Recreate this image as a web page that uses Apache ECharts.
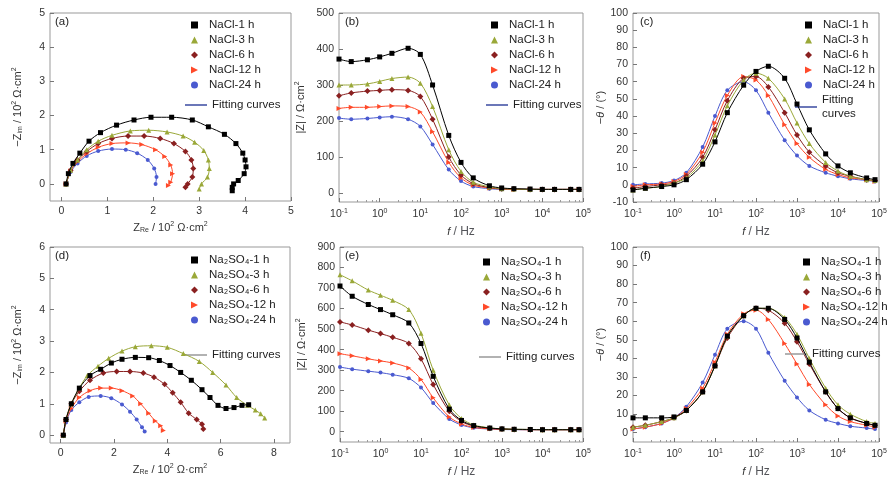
<!DOCTYPE html>
<html>
<head>
  <meta charset="UTF-8">
  <script src="https://cdn.jsdelivr.net/npm/echarts@6/dist/echarts.min.js"></script>
  <style>
    html, body { margin: 0; background: #fff; }
    #chart { width: 896px; height: 480px; }
  </style>
</head>
<body>
<div id="chart"></div>
<script>
  // Nyquist data [Z_re, -Z_im] in 10^2 ohm cm2
  var naclNyq1 = [[0.1,0],[0.15,0.3],[0.25,0.6],[0.4,0.9],[0.6,1.25],[0.85,1.5],[1.2,1.72],[1.58,1.87],[1.95,1.95],[2.4,1.95],[2.85,1.87],[3.2,1.67],[3.55,1.45],[3.8,1.18],[3.95,0.9],[4.0,0.7],[4.02,0.5],[3.98,0.3],[3.85,0.1],[3.75,0],[3.72,-0.1],[3.72,-0.2]];
  var naclNyq3 = [[0.1,0],[0.2,0.4],[0.35,0.7],[0.55,1.0],[0.8,1.25],[1.1,1.42],[1.5,1.55],[1.9,1.57],[2.3,1.52],[2.65,1.4],[2.9,1.22],[3.1,0.98],[3.2,0.7],[3.22,0.45],[3.18,0.2],[3.05,0],[3.0,-0.15]];
  var naclNyq6 = [[0.1,0],[0.2,0.4],[0.35,0.7],[0.55,0.95],[0.8,1.18],[1.1,1.33],[1.45,1.4],[1.8,1.4],[2.15,1.33],[2.45,1.18],[2.7,0.95],[2.83,0.7],[2.87,0.45],[2.85,0.2],[2.75,0],[2.7,-0.1]];
  var naclNyq12 = [[0.1,0],[0.2,0.38],[0.35,0.65],[0.55,0.88],[0.8,1.07],[1.1,1.18],[1.45,1.2],[1.75,1.15],[2.05,1.0],[2.25,0.8],[2.38,0.55],[2.42,0.3],[2.38,0.05],[2.33,-0.05]];
  var naclNyq24 = [[0.1,0],[0.2,0.35],[0.35,0.6],[0.55,0.82],[0.8,0.96],[1.1,1.02],[1.4,1.0],[1.65,0.9],[1.88,0.7],[2.02,0.45],[2.07,0.2],[2.05,0]];

  var soNyq1 = [[0.1,0],[0.2,0.5],[0.4,1.0],[0.7,1.5],[1.1,1.9],[1.5,2.1],[1.9,2.3],[2.3,2.42],[2.8,2.48],[3.3,2.47],[3.7,2.38],[4.1,2.22],[4.5,2.0],[4.9,1.75],[5.3,1.45],[5.6,1.2],[5.9,0.95],[6.2,0.85],[6.5,0.88],[6.8,0.95],[7.05,0.97]];
  var soNyq3 = [[0.1,0],[0.2,0.5],[0.4,1.0],[0.7,1.5],[1.0,1.9],[1.4,2.2],[1.8,2.45],[2.3,2.68],[2.8,2.82],[3.4,2.85],[4.0,2.8],[4.6,2.6],[5.2,2.35],[5.7,2.0],[6.2,1.6],[6.6,1.2],[7.0,0.95],[7.3,0.8],[7.5,0.68],[7.65,0.55]];
  var soNyq6 = [[0.1,0],[0.2,0.5],[0.4,1.0],[0.7,1.4],[1.1,1.75],[1.6,1.98],[2.1,2.03],[2.6,2.03],[3.1,1.98],[3.5,1.85],[3.9,1.62],[4.2,1.35],[4.5,1.05],[4.8,0.7],[5.1,0.5],[5.3,0.35],[5.35,0.2]];
  var soNyq12 = [[0.1,0],[0.2,0.45],[0.4,0.85],[0.7,1.2],[1.1,1.42],[1.5,1.5],[1.9,1.5],[2.3,1.42],[2.7,1.25],[3.0,1.0],[3.3,0.7],[3.55,0.45],[3.75,0.3],[3.85,0.15]];
  var soNyq24 = [[0.1,0],[0.2,0.4],[0.4,0.8],[0.7,1.05],[1.05,1.22],[1.5,1.25],[1.9,1.18],[2.3,0.98],[2.6,0.75],[2.85,0.5],[3.05,0.25],[3.15,0.12]];

  // Bode data
  var freq = [0.1,0.2,0.5,1,2,5,10,20,50,100,200,500,1e3,2e3,5e3,1e4,2e4,5e4,8e4];
  var naclZ1 = [372,365,370,378,388,402,385,300,160,85,42,20,14,12,11,10,10,10,10];
  var naclZ3 = [300,300,303,310,318,322,305,240,120,60,30,17,12,11,10,10,10,10,10];
  var naclZ6 = [270,278,283,285,287,285,268,205,100,50,26,15,12,11,10,10,10,10,10];
  var naclZ12 = [235,238,238,240,242,240,225,170,85,42,22,14,11,10,10,10,10,10,10];
  var naclZ24 = [208,205,207,210,212,205,185,135,65,33,18,12,10,10,10,10,10,10,10];

  var naclP1 = [-3,-2,-1,0,3,12,25,42,58,66,69,62,47,32,18,11,7,4,3];
  var naclP3 = [-3,-2,-1,1,4,14,29,46,61,65,62,50,36,24,13,8,5,3,2.5];
  var naclP6 = [-2,-1,0,1,5,16,32,49,62,63,57,42,29,19,11,7,5,3,2.5];
  var naclP12 = [-1,0,0.5,2,6,19,36,52,63,61,52,35,24,16,9,6,4,3,2];
  var naclP24 = [0,0.5,1,2.5,7,22,40,55,60,55,42,26,17,11,7,5,3.5,2.5,2];

  var soZ1 = [710,660,620,595,570,530,430,270,110,55,30,18,14,12,11,10,10,10,10];
  var soZ3 = [765,735,690,665,640,595,480,300,130,65,33,19,14,12,11,10,10,10,10];
  var soZ6 = [535,520,495,478,460,430,355,230,100,50,27,17,13,11,10,10,10,10,10];
  var soZ12 = [380,370,355,345,335,310,255,165,72,38,21,14,12,11,10,10,10,10,10];
  var soZ24 = [315,305,295,288,278,260,215,140,62,33,19,13,11,10,10,10,10,10,10];

  var soP1 = [8,8,8,8.5,12,22,36,52,63,67,67,61,51,38,22,13,8,5,4];
  var soP3 = [3,4,6,8,12,22,36,52,63,67,67,62,53,40,24,15,10,6,5];
  var soP6 = [3,4,6,8,12,22,36,51,63,67,66,59,49,37,22,13,8,5,4];
  var soP12 = [2,3,5,8,13,24,38,53,64,66,61,48,37,26,15,9,6,4,3];
  var soP24 = [2,3,5,8,14,27,42,56,60,56,43,28,19,12,7,5,3.5,2.5,2];

  var naclNames = ['NaCl-1 h','NaCl-3 h','NaCl-6 h','NaCl-12 h','NaCl-24 h'];
  var soNames = ['Na₂SO₄-1 h','Na₂SO₄-3 h','Na₂SO₄-6 h','Na₂SO₄-12 h','Na₂SO₄-24 h'];
  var fitName1 = 'Fitting curves';
  var fitName2 = 'Fitting curves ';

  var colors = ['#000000','#9aa838','#8a2020','#ff4a2a','#4a5ad0'];
  var rightTri = 'path://M0,0L10,5L0,10Z';
  var symbols = ['rect','triangle','diamond',rightTri,'circle'];
  var symSizes = [5,5,6,5,4];

  function pairs(vals) { return freq.map(function (f, i) { return [f, vals[i]]; }); }

  var grids = [
    {left: 50, top: 13, width: 241, height: 188},
    {left: 339, top: 13, width: 244, height: 189},
    {left: 633, top: 13, width: 246, height: 189},
    {left: 50, top: 247, width: 240, height: 196},
    {left: 340, top: 247, width: 243, height: 195},
    {left: 633, top: 247, width: 246, height: 195}
  ];
  grids.forEach(function (g) { g.show = true; g.borderColor = '#999'; g.borderWidth = 1; });

  var labelStyle = {color: '#333', fontSize: 10.5, fontFamily: 'Liberation Sans'};
  var nameRich = {
    n: {fontSize: 11, color: '#333', fontFamily: 'Liberation Sans'},
    it: {fontSize: 11, color: '#333', fontStyle: 'italic', fontFamily: 'Liberation Sans'},
    sub: {fontSize: 7, color: '#333', verticalAlign: 'bottom', padding: [6, 0, 0, 0], fontFamily: 'Liberation Sans'},
    sup: {fontSize: 7, color: '#333', padding: [0, 0, 6, 0], fontFamily: 'Liberation Sans'}
  };
  var logRich = {
    b: {fontSize: 10.5, color: '#333', fontFamily: 'Liberation Sans'},
    e: {fontSize: 7, color: '#333', padding: [0, 0, 6, 0], fontFamily: 'Liberation Sans'}
  };

  function valAxis(grid, min, max, interval, shown, name, nameGap, isY) {
    return {
      type: 'value', gridIndex: grid, min: min, max: max, interval: interval,
      name: name, nameLocation: 'middle', nameGap: nameGap, nameRotate: isY ? 90 : 0,
      nameTextStyle: {rich: nameRich},
      axisLine: {show: false, onZero: false},
      axisTick: {inside: true, length: 4, lineStyle: {color: '#777'}, customValues: shown},
      axisLabel: Object.assign({customValues: shown, margin: 5}, labelStyle),
      splitLine: {show: false}
    };
  }
  function logAxis(grid) {
    return {
      type: 'log', logBase: 10, gridIndex: grid, min: 0.1, max: 1e5,
      name: '{it|f} / Hz', nameLocation: 'middle', nameGap: 24,
      nameTextStyle: {rich: nameRich},
      axisLine: {show: false, onZero: false},
      axisTick: {inside: true, length: 4, lineStyle: {color: '#777'}},
      minorTick: {show: true, splitNumber: 5, length: 2, lineStyle: {color: '#999'}},
      axisLabel: {margin: 6, rich: logRich, formatter: function (v) {
        return '{b|10}{e|' + Math.round(Math.log10(v)) + '}';
      }},
      splitLine: {show: false}
    };
  }

  var xAxes = [
    valAxis(0, -0.25, 5, 0.25, [0,1,2,3,4,5], '{n|Z}{sub|Re}{n| / 10}{sup|2}{n| Ω·cm}{sup|2}', 20, false),
    logAxis(1),
    logAxis(2),
    valAxis(3, -0.4, 8.6, 0.2, [0,2,4,6,8], '{n|Z}{sub|Re}{n| / 10}{sup|2}{n| Ω·cm}{sup|2}', 20, false),
    logAxis(4),
    logAxis(5)
  ];
  var yAxes = [
    valAxis(0, -0.5, 5, 0.5, [0,1,2,3,4,5], '{n|−Z}{sub|im}{n| / 10}{sup|2}{n| Ω·cm}{sup|2}', 26, true),
    valAxis(1, -25, 500, 25, [0,100,200,300,400,500], '{n||Z| / Ω·cm}{sup|2}', 32, true),
    valAxis(2, -10, 100, 10, [-10,0,10,20,30,40,50,60,70,80,90,100], '{n|−}{it|θ}{n| / (°)}', 26, true),
    valAxis(3, -0.25, 6, 0.25, [0,1,2,3,4,5,6], '{n|−Z}{sub|im}{n| / 10}{sup|2}{n| Ω·cm}{sup|2}', 26, true),
    valAxis(4, -50, 900, 50, [0,100,200,300,400,500,600,700,800,900], '{n||Z| / Ω·cm}{sup|2}', 32, true),
    valAxis(5, -5, 100, 5, [0,10,20,30,40,50,60,70,80,90,100], '{n|−}{it|θ}{n| / (°)}', 26, true)
  ];

  var panels = [
    {names: naclNames, data: [naclNyq1, naclNyq3, naclNyq6, naclNyq12, naclNyq24]},
    {names: naclNames, data: [naclZ1, naclZ3, naclZ6, naclZ12, naclZ24].map(pairs)},
    {names: naclNames, data: [naclP1, naclP3, naclP6, naclP12, naclP24].map(pairs)},
    {names: soNames, data: [soNyq1, soNyq3, soNyq6, soNyq12, soNyq24]},
    {names: soNames, data: [soZ1, soZ3, soZ6, soZ12, soZ24].map(pairs)},
    {names: soNames, data: [soP1, soP3, soP6, soP12, soP24].map(pairs)}
  ];

  var series = [];
  panels.forEach(function (p, gi) {
    p.data.forEach(function (d, k) {
      series.push({
        type: 'line', name: p.names[k], xAxisIndex: gi, yAxisIndex: gi,
        data: d, smooth: 0.3, showAllSymbol: true,
        symbol: symbols[k], symbolSize: symSizes[k],
        itemStyle: {color: colors[k]},
        lineStyle: {width: 1, color: colors[k]},
        emphasis: {disabled: true}, z: 5 - k
      });
    });
  });
  series.push({type: 'line', name: fitName1, xAxisIndex: 0, yAxisIndex: 0, data: [], itemStyle: {color: '#3a4aa0'}});
  series.push({type: 'line', name: fitName2, xAxisIndex: 3, yAxisIndex: 3, data: [], itemStyle: {color: '#999999'}});

  function markerLegend(names, left, top) {
    return {
      orient: 'vertical', left: left, top: top, itemGap: 3, itemWidth: 7, itemHeight: 7,
      selectedMode: false,
      textStyle: {fontSize: 11.5, color: '#222', fontFamily: 'Liberation Sans', padding: [0, 0, 0, 6]},
      data: names.map(function (n, k) { return {name: n, icon: symbols[k]}; })
    };
  }
  function fitLegend(name, left, top, fmt) {
    var l = {
      left: left, top: top, itemWidth: 22, itemHeight: 1.5, icon: 'rect', selectedMode: false,
      textStyle: {fontSize: 11.5, color: '#222', fontFamily: 'Liberation Sans', lineHeight: 14},
      data: [name]
    };
    if (fmt) l.formatter = function () { return fmt; };
    return l;
  }

  var legends = [
    markerLegend(naclNames, 186, 14), fitLegend(fitName1, 180, 93),
    markerLegend(naclNames, 486, 14), fitLegend(fitName1, 481, 93),
    markerLegend(naclNames, 800, 14), fitLegend(fitName1, 790, 88, 'Fitting\ncurves'),
    markerLegend(soNames, 186, 249), fitLegend(fitName2, 180, 343),
    markerLegend(soNames, 478, 251), fitLegend(fitName2, 474, 345),
    markerLegend(soNames, 798, 251), fitLegend(fitName2, 780, 342)
  ];

  var titles = [['(a)', 55, 16], ['(b)', 345, 16], ['(c)', 640, 16], ['(d)', 55, 250], ['(e)', 345, 250], ['(f)', 640, 250]]
    .map(function (t) {
      return {text: t[0], left: t[1], top: t[2], padding: 0,
        textStyle: {fontSize: 11.5, fontWeight: 'normal', color: '#222', fontFamily: 'Liberation Sans'}};
    });

  var chart = echarts.init(document.getElementById('chart'));
  chart.setOption({
    backgroundColor: '#fff',
    animation: false,
    title: titles,
    legend: legends,
    grid: grids,
    xAxis: xAxes,
    yAxis: yAxes,
    series: series
  });
</script>
</body>
</html>
